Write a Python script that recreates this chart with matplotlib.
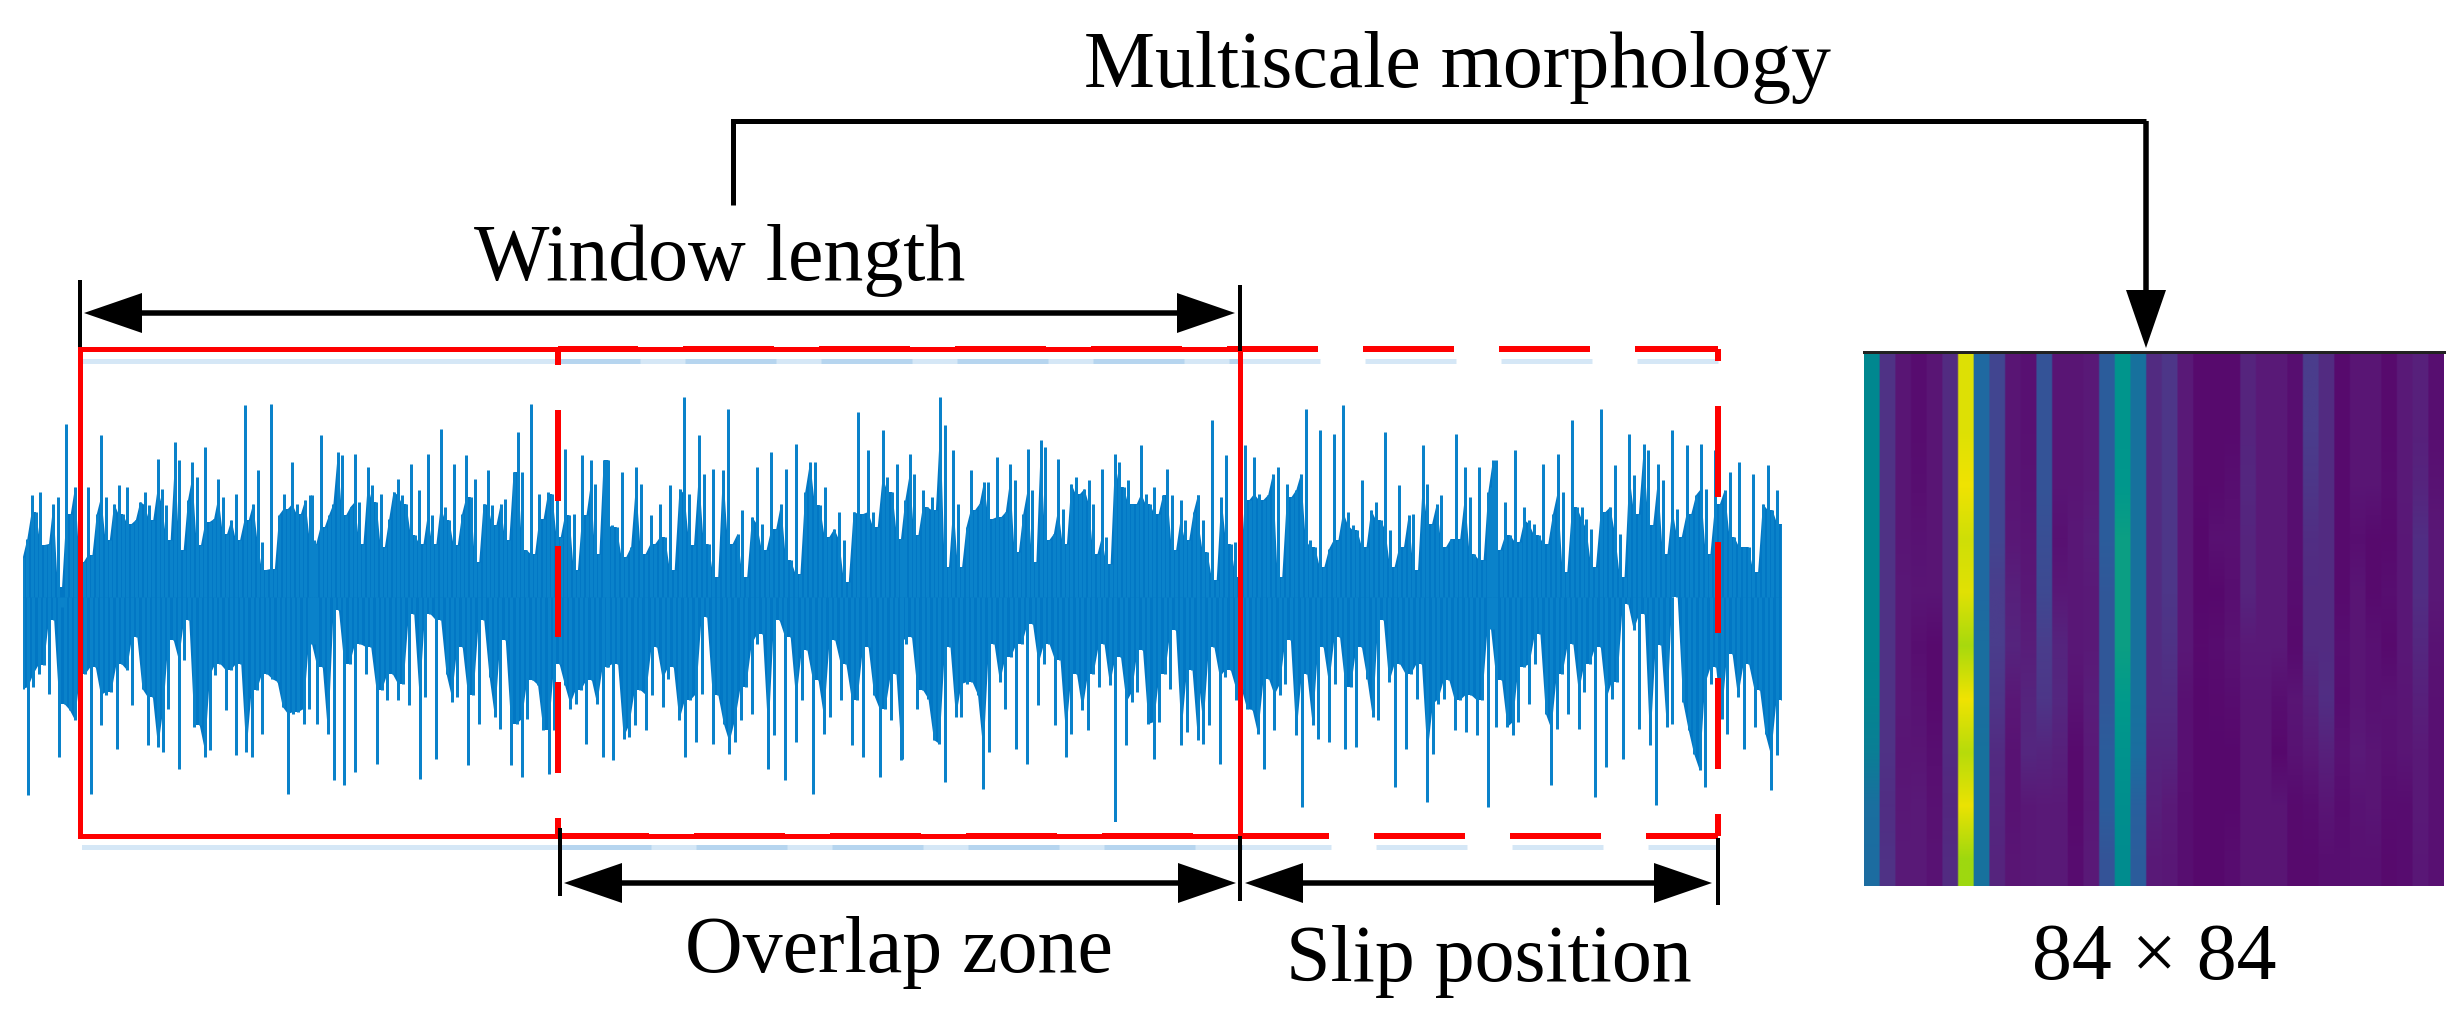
#!/usr/bin/env python3
"""
Sliding window over a vibration signal, with the resulting morphology image
"""
import numpy as np
import matplotlib
matplotlib.use('Agg')
import matplotlib.pyplot as plt
from matplotlib.colors import LinearSegmentedColormap

W, H = 2462, 1018
plt.rcParams['lines.scale_dashes'] = False

# signal peaks (amplitude, arbitrary units)
up_1 = [40,58,102,85,105,52,53,93,100,-10,173,83,110,135,35,110,42,83,162,100,57,93,112,83,110,73,77,95,105,92,77,138,108,92,57,155,137,47,97,135,120,52,150,75,78,118,100,63,77,103,57,192,77,93,127,55,27,193,28,82,103,88,135,93,83,97,102,57]
down_1 = [-92,-198,-90,-77,-68,-97,-23,-160,-107,-113,-123,-175,-77,-197,-70,-128,-98,-95,-152,-67,-73,-108,-40,-92,-148,-100,-150,-155,-112,-43,-172,-63,-23,-130,-128,-160,-153,-78,-67,-113,-73,-158,-67,-155,-160,-93,-137,-77,-82,-85,-110,-197,-117,-115,-127,-112,-47]
up_2 = [102,53,162,70,82,93,145,142,82,90,143,95,53,130,112,95,103,50,78,105,118,102,93,133,62,107,53,143,82,53,168,90,77,133,52,83,142,100,118,35,93,127,92,72,93,98,57,125,165,125,47,193,43,103,78,105,103,118,60,148,82,83,27,142,82,137,113,43,137,137]
down_2 = [-47,-127,-70,-137,-183,-13,-188,-67,-175,-47,-77,-50,-167,-93,-103,-77,-103,-87,-108,-17,-182,-100,-17,-162,-23,-77,-105,-100,-50,-168,-98,-127,-23,-80,-120,-132,-43,-168,-127,-180,-122,-83,-88,-133,-177,-133,-67,-88,-112,-107,-93,-147,-83,-107,-160,-70]
up_3 = [137,72,70,125,40,50,130,113,43,82,53,93,60,112,27,108,200,103,52,162,123,53,128,20,127,188,53,63,87,20,80,130,73,47,145,68,93,128,37,153,23,105,135,135,92,110,60,68,85,57,15,85,185,83,147,85,70,167,120,105,133,58]
down_3 = [-70,-163,-67,-142,-140,-128,-93,-133,-98,-50,-110,-82,-70,-123,-160,-103,-145,-97,-20,-147,-98,-127,-157,-145,-123,-90,-117,-47,-37,-172,-138,-23,-183,-40,-145,-103,-53,-197,-83,-137,-120,-43,-103,-67,-148,-103,-160,-50,-98,-180,-112,-123,-77,-162]
up_4 = [58,97,143,123,62,107,90,100,87,200,172,30,147,93,30,70,127,87,93,115,115,78,140,80,85,133,117,45,83,148,107,35,157,150,57,63,138,88,53,113,120,103,108,117,93,43,128,60,33,143,135,110,117,93,93,152,103,93,110,83,102,128,102,47,97,77,57,85,102]
down_4 = [-163,-47,-40,-112,-93,-102,-143,-147,-185,-50,-120,-120,-87,-85,-98,-192,-155,-47,-85,-112,-60,-152,-47,-167,-27,-108,-67,-47,-128,-63,-160,-137,-77,-113,-133,-77,-90,-47,-88,-227,-60,-148,-105,-95,-53,-127,-162,-125,-77,-92,-33,-148,-135,-73,-143]
up_5 = [102,77,45,177,17,100,142,53,55,20,152,97,140,103,97,102,123,130,20,113,100,107,123,188,57,50,167,30,48,163,57,192,85,72,67,117,50,87,95,77,165,67,30,112,50,82,83,27,152,113,73,93,102,50,58,163,58,130,100,43,130,37,105,137]
down_5 = [-77,-147,-128,-50,-167,-80,-73,-103,-92,-112,-113,-137,-172,-82,-133,-98,-87,-43,-138,-210,-77,-128,-142,-50,-145,-87,-40,-152,-90,-150,-50,-82,-120,-123,-23,-85,-190,-67,-152,-77,-102,-67,-205,-157,-107,-102,-83,-133,-103,-135,-98,-138,-103,-210,-32]
up_6 = [110,137,47,95,62,147,55,90,77,73,62,133,53,83,143,105,25,177,90,90,78,68,30,188,85,90,132,63,20,163,122,83,153,147,72,133,117,43,167,88,60,152,83,102,153,108,43,147,93,107,125,60,135,50,50,123,25,93,132,87,107,73]
down_6 = [-32,-130,-83,-130,-138,-125,-70,-107,-67,-37,-117,-188,-132,-77,-117,-47,-132,-95,-67,-200,-50,-170,-102,-85,-162,-7,-33,-132,-17,-148,-208,-48,-130,-127,0,-105,-133,-157,-173,-190,-87,-70,-122,-137,-57,-100,-152,-67,-130,-93,-137,-193,-158,-103]

segments_up = [up_1, up_2, up_3, up_4, up_5, up_6]
segments_down = [down_1, down_2, down_3, down_4, down_5, down_6]
segment_start = [0, 289, 584, 878, 1175, 1468]
segment_end = [291, 585, 879, 1175, 1470, 1759]

# morphology image, one row per band, values in percent of the colour range
heat_rows = [
    [42,17,8,4,8,15,93,30,22,8,6,25,8,8,10,27,48,33,15,18,10,3,3,3,13,10,10,5,20,15,3,8,8,3,10,12,5],
    [42,17,8,4,8,15,93,30,22,8,6,25,8,8,10,27,48,33,15,18,10,3,3,3,13,10,10,5,20,15,3,8,8,3,10,12,5],
    [42,17,8,5,8,15,97,30,22,8,7,25,8,8,10,27,49,33,15,18,9,3,3,5,14,10,10,5,18,15,3,8,8,4,10,13,7],
    [42,17,8,7,8,15,90,30,22,9,8,24,6,9,11,27,52,33,15,18,9,2,6,6,13,10,10,5,16,15,3,5,3,3,9,16,9],
    [42,17,9,8,8,15,94,30,20,12,9,23,9,9,10,26,52,33,15,18,9,2,2,5,13,10,10,4,15,15,3,8,3,5,9,16,9],
    [42,17,9,5,3,15,82,32,20,13,11,20,13,9,10,26,52,33,15,17,9,3,4,7,10,10,10,3,15,15,5,8,6,3,9,14,7],
    [41,17,9,7,3,15,97,32,18,9,13,18,14,7,11,26,50,33,15,15,6,2,3,4,8,8,5,8,12,16,4,8,6,7,8,12,6],
    [38,17,8,8,5,15,85,33,15,7,14,13,12,3,10,27,47,32,13,13,6,2,2,2,8,8,2,7,9,12,6,10,8,6,8,10,6],
    [32,16,9,10,6,14,96,33,14,7,9,10,10,3,9,27,45,28,12,10,5,2,2,2,8,8,8,3,4,8,4,7,8,4,4,10,6],
    [31,17,10,10,7,15,80,33,13,8,9,10,10,4,10,25,44,27,10,9,5,2,2,4,8,8,8,3,3,5,5,6,6,3,4,9,6],
]
heat_label = '84 × 84'

# pixel layout of the annotations
RED_TOP, RED_BOTTOM = 349, 836
WIN_LEFT, WIN_RIGHT = 80, 1240
SLIP_LEFT, SLIP_RIGHT = 558, 1718
HEAT_LEFT, HEAT_RIGHT, HEAT_TOP, HEAT_BOTTOM = 1864, 2444, 352, 886
PX = 72 / 100  # points per pixel at dpi=100
DASH = (91 * PX, 45 * PX)


def body(values):
    """Edge of the dense body of the trace: the lower of each pair of neighbouring peaks"""
    v = np.abs(np.asarray(values, dtype=float))
    return np.minimum(v, np.append(v[1:], v[-1]))


def arrow(ax, x0, y0, x1, y1, length=58, half=20):
    """Shaft from (x0, y0) to a filled head at (x1, y1), sizes in pixels"""
    ux, uy = np.sign(x1 - x0), np.sign(y1 - y0)
    bx, by = x1 - ux * length, y1 - uy * length
    ax.plot([x0, bx], [y0, by], color='black', lw=5.5 * PX, solid_capstyle='butt')
    ax.fill([x1, bx - uy * half, bx + uy * half], [y1, by - ux * half, by + ux * half],
            color='black', lw=0)


def label(ax, x, y, text):
    ax.text(x, y, text, family='Liberation Serif', fontsize=57.5, color='black',
            ha='left', va='baseline')


fig = plt.figure(figsize=(W / 100, H / 100), dpi=100, facecolor='white')

# signal: solid body plus one needle per peak
ax_sig = fig.add_axes([23 / W, (H - 822) / H, 1759 / W, 450 / H])
for u, d, s, e in zip(segments_up, segments_down, segment_start, segment_end):
    xu = np.linspace(s, e, len(u))
    xd = np.linspace(s, e, len(d))
    ax_sig.fill(np.concatenate([xu, xd[::-1]]),
                np.concatenate([body(u), -body(d)[::-1]]),
                color='#0277c4', lw=0)
    ax_sig.vlines(xu, 0, u, color='#0a82ca', lw=3 * PX)
    ax_sig.vlines(xd, 0, d, color='#0a82ca', lw=3 * PX)
ax_sig.set_xlim(0, 1759)
ax_sig.set_ylim(-225, 225)
ax_sig.axis('off')

# morphology image, columns kept sharp while the rows blend into each other
cmap = LinearSegmentedColormap.from_list('morph', [
    (0.00, '#56046a'), (0.10, '#5a1a78'), (0.20, '#4a3d8c'), (0.30, '#1f6aa2'),
    (0.42, '#00888f'), (0.50, '#009a8c'), (0.80, '#9ed80f'), (1.00, '#fde500')])
ax_heat = fig.add_axes([HEAT_LEFT / W, (H - HEAT_BOTTOM) / H, (HEAT_RIGHT - HEAT_LEFT) / W,
                        (HEAT_BOTTOM - HEAT_TOP) / H])
ax_heat.imshow(np.repeat(np.array(heat_rows) / 100, 10, axis=1), cmap=cmap, vmin=0, vmax=1,
               aspect='auto', interpolation='bilinear')
ax_heat.axis('off')

# annotations in pixel coordinates, on top of everything
ax = fig.add_axes([0, 0, 1, 1], zorder=5)
ax.set_xlim(0, W)
ax.set_ylim(H, 0)
ax.axis('off')

# pale blue shadow below the red frames
shadow = dict(color='#5ba3dc', alpha=0.25, lw=5 * PX)
for y in (RED_TOP + 12, RED_BOTTOM + 11):
    ax.plot([WIN_LEFT + 4, WIN_RIGHT], [y, y], **shadow)
ax.plot([SLIP_LEFT + 2, SLIP_RIGHT], [RED_TOP + 12, RED_TOP + 12],
        linestyle=(11 * PX, DASH), **shadow)
ax.plot([SLIP_LEFT + 2, SLIP_RIGHT], [RED_BOTTOM + 11, RED_BOTTOM + 11],
        linestyle=(0, DASH), **shadow)

# solid window frame
ax.plot([WIN_LEFT, WIN_LEFT, WIN_RIGHT, WIN_RIGHT, WIN_LEFT],
        [RED_BOTTOM, RED_TOP, RED_TOP, RED_BOTTOM, RED_BOTTOM],
        color='#fe0000', lw=5 * PX, solid_joinstyle='miter')

# dashed slipped window frame
red = dict(color='#fe0000', lw=6 * PX)
ax.plot([SLIP_LEFT, SLIP_RIGHT], [RED_TOP, RED_TOP], linestyle=(11 * PX, DASH), **red)
ax.plot([SLIP_LEFT, SLIP_RIGHT], [RED_BOTTOM, RED_BOTTOM], linestyle=(0, DASH), **red)
ax.plot([SLIP_LEFT, SLIP_LEFT], [RED_BOTTOM, RED_TOP], linestyle=(73 * PX, DASH), **red)
ax.plot([SLIP_RIGHT, SLIP_RIGHT], [RED_BOTTOM, RED_TOP], linestyle=(69 * PX, DASH), **red)

# extension ticks
tick = dict(color='black', lw=4 * PX, solid_capstyle='butt')
ax.plot([WIN_LEFT, WIN_LEFT], [280, RED_TOP - 2], **tick)
ax.plot([WIN_RIGHT, WIN_RIGHT], [285, RED_TOP + 2], **tick)
ax.plot([560, 560], [RED_BOTTOM - 8, 896], **tick)
ax.plot([WIN_RIGHT, WIN_RIGHT], [RED_BOTTOM, 901], **tick)
ax.plot([SLIP_RIGHT, SLIP_RIGHT], [RED_BOTTOM + 2, 905], **tick)

# dimension arrows
arrow(ax, 500, 313, 84, 313)
arrow(ax, 500, 313, 1235, 313)
arrow(ax, 900, 883, 564, 883)
arrow(ax, 900, 883, 1236, 883)
arrow(ax, 1480, 883, 1245, 883)
arrow(ax, 1480, 883, 1712, 883)

# morphology connector
ax.plot([733, 733, 2146], [205, 121, 121], color='black', lw=5 * PX,
        solid_joinstyle='miter', solid_capstyle='butt')
arrow(ax, 2146, 121, 2146, 348, length=58, half=20)
ax.plot([HEAT_LEFT, HEAT_RIGHT], [HEAT_TOP, HEAT_TOP], color='#222222', lw=3 * PX)

label(ax, 1084, 87, 'Multiscale morphology')
label(ax, 474, 280, 'Window length')
label(ax, 685, 972, 'Overlap zone')
label(ax, 1286, 981, 'Slip position')
ax.text(2154, 979, heat_label, family='Liberation Serif', fontsize=57.5, color='black',
        ha='center', va='baseline')

fig.savefig('out.png', dpi=100)
plt.close(fig)
